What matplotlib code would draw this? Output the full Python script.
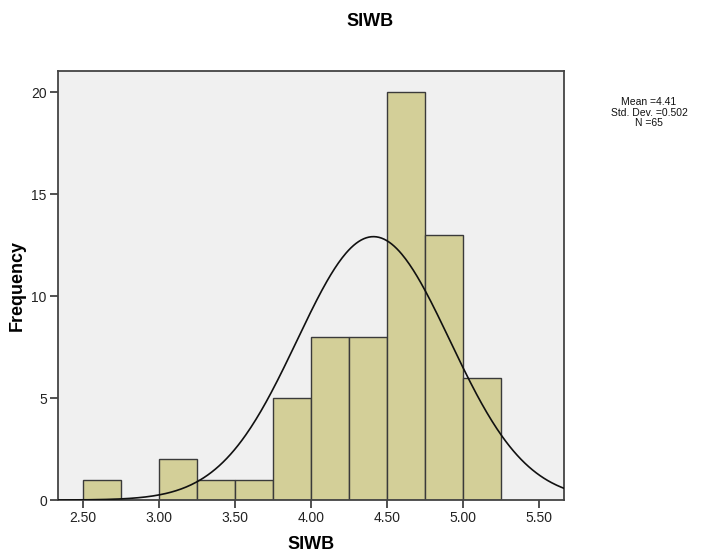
import matplotlib.pyplot as plt
import numpy as np

plt.rcParams['font.family'] = ['Liberation Sans', 'DejaVu Sans']

# histogram of SIWB (bin width 0.25)
bin_left = [2.50, 2.75, 3.00, 3.25, 3.50, 3.75, 4.00, 4.25, 4.50, 4.75, 5.00]
counts = [1, 0, 2, 1, 1, 5, 8, 8, 20, 13, 6]
bin_width = 0.25

mean = 4.41
std = 0.502
n = 65

xticks = [2.50, 3.00, 3.50, 4.00, 4.50, 5.00, 5.50]
yticks = [0, 5, 10, 15, 20]

fig = plt.figure(figsize=(7.07, 5.56), dpi=100)
ax = fig.add_axes([0.082, 0.1007, 0.716, 0.7721])
ax.set_facecolor('#f0f0f0')

ax.bar(bin_left, counts, width=bin_width, align='edge', color='#d3cf98',
       edgecolor='#3a3a3a', linewidth=1.0, zorder=2)

# normal curve scaled to the histogram
xlim = (2.336, 5.664)
xs = np.linspace(xlim[0], xlim[1], 400)
ys = n * bin_width / (std * np.sqrt(2 * np.pi)) * np.exp(-0.5 * ((xs - mean) / std) ** 2)
ax.plot(xs, ys, color='#111111', linewidth=1.2, zorder=3)

ax.set_xlim(xlim)
ax.set_ylim(0, 21.05)
ax.set_xticks(xticks)
ax.set_xticklabels(['%.2f' % t for t in xticks])
ax.set_yticks(yticks)
ax.tick_params(direction='out', length=6, width=1.2, color='#333333', labelsize=10,
               labelcolor='#222222', pad=2)
for s in ax.spines.values():
    s.set_color('#444444')
    s.set_linewidth(1.3)

ax.set_xlabel('SIWB', fontsize=13, fontweight='bold', labelpad=8)
ax.set_ylabel('Frequency', fontsize=13, fontweight='bold', labelpad=4)
fig.text(370 / 707, 1 - 21 / 556, 'SIWB', fontsize=13, fontweight='bold',
         ha='center', va='center')

stats = ['Mean =%.2f' % mean, 'Std. Dev. =%.3f' % std, 'N =%d' % n]
for i, s in enumerate(stats):
    fig.text(649 / 707, 1 - (102 + 10.5 * i) / 556, s, fontsize=7.5,
             ha='center', va='center', color='#111111')

plt.savefig('out.png', dpi=100)
